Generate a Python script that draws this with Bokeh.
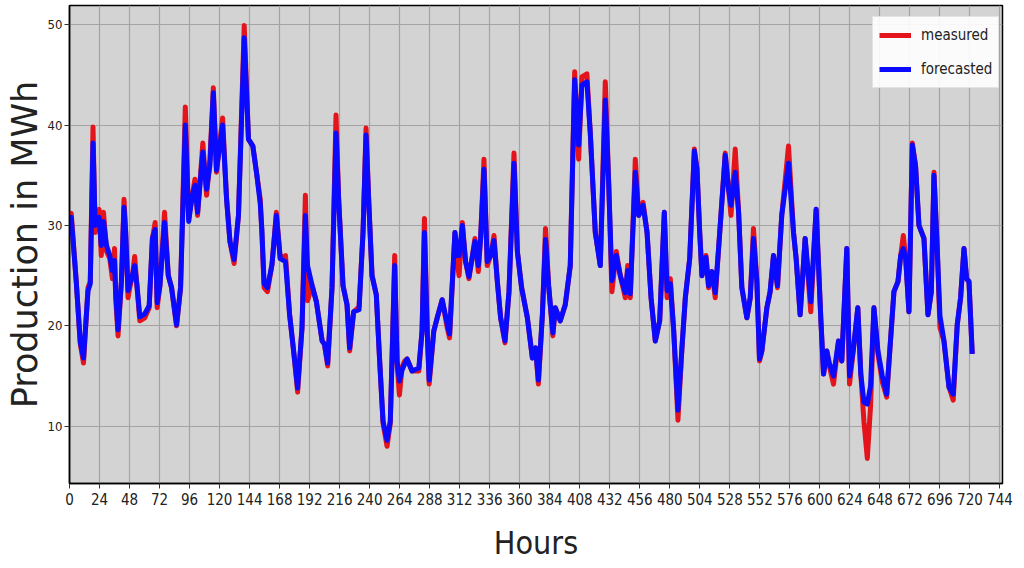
from bokeh.plotting import figure
from bokeh.models import Range1d, FixedTicker, Legend, LegendItem
from bokeh.embed import file_html
from bokeh.resources import INLINE

hours = [0, 1.4, 5.4, 8.6, 11.2, 14.8, 16.6, 18.8, 20.5, 21.7, 23.7, 25.4, 27.2, 29.6, 32.2, 34.3, 36.0, 36.9, 38.8, 41.5,
         43.6, 44.9, 46.8, 48.2, 50.3, 52.1, 54.0, 56.2, 60.2, 63.7, 66.3, 68.5, 70.1, 72.3, 76.0, 79.0, 81.6, 85.6, 88.8, 92.6,
         95.3, 97.7, 100.3, 102.4, 106.6, 109.6, 112.3, 115.0, 117.5, 122.4, 125.6, 128.3, 131.6, 135.1, 139.7, 143.1, 146.6, 149.8, 152.5, 153.8,
         155.6, 158.3, 161.9, 165.4, 168.5, 172.7, 176.0, 179.2, 182.4, 185.9, 188.6, 190.3, 194.0, 197.4, 202.0, 203.8, 206.4, 209.9, 213.1, 215.2,
         218.7, 221.9, 224.0, 227.2, 231.5, 234.7, 237.1, 239.2, 241.9, 245.3, 248.0, 250.7, 253.9, 256.5, 260.0, 261.9, 263.8, 265.9, 268.0, 269.9,
         273.9, 279.3, 281.9, 283.8, 286.0, 287.6, 291.3, 294.0, 298.0, 302.0, 303.9, 308.2, 310.0, 311.5, 314.1, 316.7, 319.4, 324.2, 326.9, 328.7,
         331.4, 334.0, 336.8, 339.4, 342.1, 344.7, 348.2, 351.4, 355.4, 358.1, 361.5, 366.1, 370.1, 372.7, 374.9, 378.1, 380.6, 383.1, 386.5, 388.4,
         392.4, 396.4, 400.4, 403.9, 407.1, 409.7, 413.7, 416.4, 420.4, 424.4, 428.4, 431.1, 433.7, 437.2, 440.4, 444.4, 446.3, 448.4, 452.4, 455.1,
         458.6, 461.8, 465.0, 468.4, 471.9, 475.6, 477.8, 480.4, 483.1, 486.5, 489.7, 492.4, 495.9, 499.6, 501.7, 503.9, 505.7, 508.9, 511.0, 513.7,
         516.3, 519.0, 524.3, 527.0, 528.9, 532.3, 535.0, 537.6, 541.6, 544.3, 546.9, 549.6, 551.7, 553.6, 557.6, 560.2, 562.9, 566.1, 569.5, 574.9,
         578.9, 581.0, 584.2, 588.2, 592.7, 597.0, 600.7, 602.9, 605.5, 607.5, 610.9, 614.9, 617.5, 621.5, 623.7, 626.9, 630.3, 632.7, 635.2, 637.9,
         640.5, 643.2, 646.4, 649.9, 653.4, 656.6, 659.2, 662.4, 664.6, 666.7, 668.6, 671.2, 673.9, 676.5, 679.2, 683.2, 686.4, 689.1, 691.2, 693.8,
         696.0, 699.2, 703.2, 706.6, 709.8, 712.5, 715.2, 717.3, 719.2, 721.8]

measured = [30.5, 31.2, 24.4, 18.2, 16.3, 23.8, 24.4, 39.8, 29.3, 30.0, 31.6, 27.0, 31.3, 27.4, 26.7, 24.7, 27.7, 22.8, 19.0, 24.4,
            32.6, 29.3, 22.8, 23.8, 25.0, 26.9, 23.8, 20.5, 20.8, 21.8, 28.7, 30.3, 21.8, 24.0, 31.3, 25.0, 23.8, 20.0, 23.8, 41.8,
            30.7, 32.6, 34.6, 31.0, 38.2, 33.0, 36.6, 43.7, 35.3, 40.7, 32.6, 28.4, 26.2, 31.0, 49.9, 38.6, 37.9, 35.0, 32.6, 29.3,
            23.8, 23.4, 26.1, 31.3, 26.7, 27.0, 21.1, 17.5, 13.4, 19.8, 33.0, 22.5, 24.0, 22.4, 18.5, 18.2, 16.0, 23.8, 41.0, 32.6,
            24.0, 22.1, 17.5, 21.4, 21.9, 29.3, 39.7, 32.6, 25.0, 23.1, 16.5, 10.3, 8.0, 10.3, 27.0, 16.2, 13.1, 15.9, 16.5, 16.7,
            15.5, 15.5, 19.5, 30.7, 19.5, 14.2, 19.5, 20.8, 22.6, 19.8, 18.8, 29.3, 26.4, 25.0, 30.3, 26.4, 24.7, 28.7, 25.4, 28.7,
            36.6, 26.0, 27.0, 29.0, 24.4, 20.8, 18.3, 23.4, 37.2, 27.4, 23.8, 20.8, 16.8, 17.8, 14.2, 21.1, 29.7, 24.0, 19.0, 21.8,
            20.5, 22.1, 26.0, 45.3, 36.6, 44.8, 45.1, 39.2, 29.3, 26.0, 44.3, 34.3, 23.4, 27.4, 25.0, 22.8, 26.0, 22.8, 36.6, 31.0,
            32.3, 29.3, 22.8, 18.5, 20.5, 31.3, 22.8, 24.7, 19.5, 10.6, 17.8, 22.8, 26.7, 37.6, 35.6, 29.3, 25.0, 27.0, 23.8, 25.4,
            22.8, 27.7, 37.2, 33.6, 31.0, 37.6, 31.3, 23.8, 20.8, 22.8, 29.7, 24.4, 16.5, 17.5, 21.8, 23.4, 27.0, 23.8, 31.0, 37.9,
            29.3, 26.7, 21.1, 28.7, 21.4, 31.6, 20.8, 15.2, 17.5, 16.0, 14.2, 18.5, 16.5, 27.7, 14.2, 17.8, 21.8, 15.2, 10.5, 6.8,
            12.0, 21.8, 17.2, 14.4, 12.9, 18.8, 23.4, 24.4, 27.0, 29.0, 26.7, 21.4, 38.2, 35.9, 30.0, 28.7, 21.1, 23.4, 35.3, 27.7,
            19.8, 18.5, 13.9, 12.6, 20.1, 22.8, 27.7, 24.7, 24.4, 17.2]

forecasted = [30.3, 30.8, 24.4, 18.4, 16.8, 23.5, 24.2, 38.2, 30.0, 30.5, 30.8, 28.0, 30.4, 28.0, 27.0, 25.5, 26.5, 23.4, 19.6, 24.4,
              31.8, 29.3, 23.5, 24.2, 25.0, 26.0, 24.0, 20.9, 21.2, 22.0, 28.7, 29.6, 22.3, 24.0, 30.3, 25.0, 23.8, 20.1, 23.8, 40.0,
              30.4, 32.6, 34.0, 31.3, 37.3, 33.6, 36.0, 43.2, 35.5, 40.0, 32.6, 28.4, 26.6, 31.0, 48.7, 38.6, 37.9, 35.0, 32.2, 29.6,
              24.2, 23.8, 26.1, 31.0, 26.7, 26.4, 21.1, 17.5, 13.8, 19.8, 31.0, 26.0, 24.0, 22.4, 18.5, 18.2, 16.3, 23.8, 39.2, 32.6,
              24.0, 22.1, 17.8, 21.4, 21.6, 29.3, 39.0, 32.6, 25.0, 23.1, 16.5, 10.5, 8.6, 10.5, 26.0, 16.5, 14.5, 15.6, 16.2, 16.7,
              15.5, 15.8, 19.5, 29.3, 19.5, 14.6, 19.5, 20.8, 22.6, 20.2, 19.2, 29.3, 27.0, 27.0, 30.0, 26.4, 24.9, 28.4, 26.0, 28.7,
              35.6, 26.4, 27.0, 28.5, 24.4, 20.8, 18.5, 23.4, 36.2, 27.4, 23.8, 20.8, 16.8, 17.8, 14.6, 21.1, 28.6, 24.0, 19.3, 21.8,
              20.5, 22.1, 26.0, 44.5, 38.0, 44.0, 44.3, 39.2, 29.3, 26.0, 42.5, 34.3, 24.5, 27.0, 25.0, 23.3, 25.5, 23.2, 35.3, 31.0,
              32.0, 29.3, 22.8, 18.5, 20.5, 31.3, 23.5, 24.2, 19.5, 11.6, 17.8, 22.8, 26.7, 37.4, 35.6, 29.3, 25.0, 26.8, 24.0, 25.4,
              23.3, 27.7, 37.0, 33.6, 32.0, 35.3, 31.3, 23.8, 20.8, 22.8, 28.7, 24.4, 16.7, 17.5, 21.8, 23.4, 27.0, 24.0, 31.0, 36.2,
              29.3, 26.7, 21.1, 28.7, 22.4, 31.6, 20.8, 15.2, 17.5, 16.3, 15.0, 18.5, 16.5, 27.7, 15.0, 17.8, 21.8, 15.2, 12.4, 12.2,
              14.0, 21.8, 17.5, 15.0, 13.2, 18.8, 23.4, 24.4, 27.0, 27.7, 26.7, 21.4, 38.0, 35.9, 30.0, 28.7, 21.1, 23.4, 35.0, 27.7,
              21.0, 18.5, 13.9, 13.2, 20.1, 22.8, 27.7, 24.7, 24.4, 17.2]

x_ticks = list(range(0, 745, 24))
y_ticks = [10, 20, 30, 40, 50]

COND = "'DejaVu Sans Condensed', 'DejaVu Sans', sans-serif"

p = figure(width=1016, height=566, output_backend="svg", toolbar_location=None,
           x_range=Range1d(0, 746), y_range=Range1d(4.3, 51.9),
           min_border_left=69, min_border_right=14, min_border_top=5, min_border_bottom=83)

p.background_fill_color = "#d3d3d3"
p.border_fill_color = "white"
p.outline_line_color = "black"
p.outline_line_width = 1.5

r_meas = p.line(hours, measured, line_color="#e3141c", line_width=5, line_join="round")
r_fore = p.line(hours, forecasted, line_color="#0a0aff", line_width=5, line_join="round")

p.xaxis.ticker = FixedTicker(ticks=x_ticks)
p.yaxis.ticker = FixedTicker(ticks=y_ticks)
p.xgrid.ticker = FixedTicker(ticks=x_ticks)
p.ygrid.ticker = FixedTicker(ticks=y_ticks)
p.grid.grid_line_color = "#a3a3a3"
p.grid.grid_line_width = 1.2

for ax in (p.xaxis, p.yaxis):
    ax.axis_line_color = "black"
    ax.axis_line_width = 1.5
    ax.major_tick_line_color = "#333333"
    ax.major_tick_out = 5
    ax.major_tick_in = 0
    ax.minor_tick_line_color = None
    ax.major_label_text_font = COND
    ax.major_label_text_color = "#222222"

p.xaxis.major_label_text_font_size = "15px"
p.yaxis.major_label_text_font_size = "13px"

p.xaxis.axis_label = "Hours"
p.xaxis.axis_label_text_font = COND
p.xaxis.axis_label_text_font_size = "32px"
p.xaxis.axis_label_text_font_style = "normal"
p.xaxis.axis_label_text_color = "#222222"
p.xaxis.axis_label_standoff = 16
p.xaxis.major_label_standoff = 4

p.yaxis.axis_label = "Production in MWh"
p.yaxis.axis_label_text_font = "DejaVu Sans"
p.yaxis.axis_label_text_font_size = "35px"
p.yaxis.axis_label_text_font_style = "normal"
p.yaxis.axis_label_text_color = "#222222"
p.yaxis.axis_label_standoff = 0
p.yaxis.major_label_standoff = 2

legend = Legend(items=[LegendItem(label="measured", renderers=[r_meas]),
                       LegendItem(label="forecasted", renderers=[r_fore])],
                location=(803, 395))
legend.margin = 0
legend.padding = 6
legend.spacing = 10
legend.glyph_width = 32
legend.glyph_height = 24
legend.label_height = 24
legend.label_standoff = 10
legend.label_text_font = COND
legend.label_text_font_size = "15px"
legend.label_text_color = "#222222"
legend.background_fill_color = "white"
legend.background_fill_alpha = 0.9
legend.border_line_color = "#cccccc"
p.add_layout(legend)

open("out.html", "w").write(file_html(p, INLINE))
